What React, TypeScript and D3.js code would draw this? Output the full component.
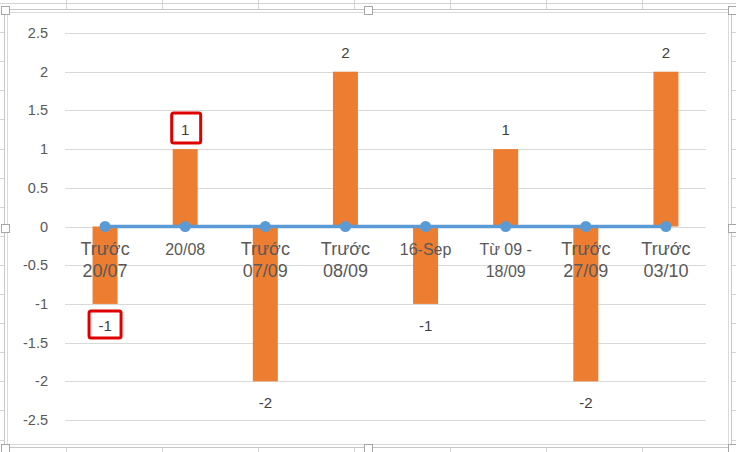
import { useEffect, useRef } from 'react';
import * as d3 from 'd3';

// chart data
const categories = [
  'Trước\n20/07',
  '20/08',
  'Trước\n07/09',
  'Trước\n08/09',
  '16-Sep',
  'Từ 09 -\n18/09',
  'Trước\n27/09',
  'Trước\n03/10',
];
const barValues = [-1, 1, -2, 2, -1, 1, -2, 2];
const lineValues = [0, 0, 0, 0, 0, 0, 0, 0];
const yTicks = [2.5, 2, 1.5, 1, 0.5, 0, -0.5, -1, -1.5, -2, -2.5];
// labels with a red box drawn round them
const boxedLabels = [0, 1];

export default function App() {
  const svgRef = useRef<SVGSVGElement>(null);

  useEffect(() => {
    const width = 736;
    const height = 452;
    const plot = { left: 65, right: 706, top: 33, bottom: 420 };
    const orange = '#ED7D31';
    const blue = '#5B9BD5';
    const font = "'Liberation Sans', Arial, sans-serif";

    const svg = d3.select(svgRef.current);
    svg.selectAll('*').remove();

    // spreadsheet cells behind the chart
    const sheet = svg.append('g').attr('stroke', '#d4d4d4').attr('stroke-width', 1);
    sheet
      .selectAll('line.v')
      .data(d3.range(66, width, 96))
      .enter()
      .append('line')
      .attr('x1', d => d + 0.5)
      .attr('x2', d => d + 0.5)
      .attr('y1', 0)
      .attr('y2', height);
    sheet
      .selectAll('line.h')
      .data(d3.range(3, height, 29.1))
      .enter()
      .append('line')
      .attr('x1', 0)
      .attr('x2', width)
      .attr('y1', d => Math.round(d) + 0.5)
      .attr('y2', d => Math.round(d) + 0.5);

    // chart area
    svg.append('rect').attr('x', 4.5).attr('y', 9.5).attr('width', 727).attr('height', 438)
      .attr('fill', '#fff').attr('stroke', '#c6c6c6');
    svg.append('rect').attr('x', 7.5).attr('y', 12.5).attr('width', 721).attr('height', 432)
      .attr('fill', 'none').attr('stroke', '#dadada');

    const x = d3
      .scaleBand()
      .domain(categories)
      .range([plot.left, plot.right]);
    const y = d3.scaleLinear().domain([-2.5, 2.5]).range([plot.bottom, plot.top]);
    const cx = (i: number) => x(categories[i])! + x.bandwidth() / 2;
    const barW = 25;

    // gridlines
    svg
      .append('g')
      .selectAll('line')
      .data(yTicks)
      .enter()
      .append('line')
      .attr('x1', plot.left)
      .attr('x2', plot.right)
      .attr('y1', d => Math.round(y(d)) + 0.5)
      .attr('y2', d => Math.round(y(d)) + 0.5)
      .attr('stroke', '#d9d9d9')
      .attr('stroke-width', 1);

    // y labels
    svg
      .append('g')
      .selectAll('text')
      .data(yTicks)
      .enter()
      .append('text')
      .attr('x', 48)
      .attr('y', d => y(d) + 5)
      .attr('text-anchor', 'end')
      .attr('font-family', font)
      .attr('font-size', 14.5)
      .attr('fill', '#595959')
      .text(d => String(d));

    // bars
    svg
      .append('g')
      .selectAll('rect')
      .data(barValues)
      .enter()
      .append('rect')
      .attr('x', (_, i) => cx(i) - barW / 2)
      .attr('y', d => y(Math.max(0, d)))
      .attr('width', barW)
      .attr('height', d => Math.abs(y(d) - y(0)))
      .attr('fill', orange);

    // category labels
    const cat = svg
      .append('g')
      .selectAll('text')
      .data(categories)
      .enter()
      .append('text')
      .attr('text-anchor', 'middle')
      .attr('font-family', font)
      .attr('fill', '#595959')
      .attr('font-size', d => (d.startsWith('Trước') ? 18 : 16));
    cat
      .selectAll('tspan')
      .data((d, i) => d.split('\n').map((s, k) => ({ s, k, i })))
      .enter()
      .append('tspan')
      .attr('x', d => cx(d.i))
      .attr('y', d => 255 + d.k * 22)
      .text(d => d.s);

    // zero line with markers
    const line = d3
      .line<number>()
      .x((_, i) => cx(i))
      .y(d => y(d));
    svg
      .append('path')
      .datum(lineValues)
      .attr('d', line)
      .attr('fill', 'none')
      .attr('stroke', blue)
      .attr('stroke-width', 3.5);
    svg
      .append('g')
      .selectAll('circle')
      .data(lineValues)
      .enter()
      .append('circle')
      .attr('cx', (_, i) => cx(i))
      .attr('cy', d => y(d))
      .attr('r', 5.5)
      .attr('fill', blue);

    // data labels
    const labelY = (d: number) => (d >= 0 ? y(d) - 14 : y(d) + 27);
    svg
      .append('g')
      .selectAll('text')
      .data(barValues)
      .enter()
      .append('text')
      .attr('x', (_, i) => cx(i))
      .attr('y', d => labelY(d))
      .attr('text-anchor', 'middle')
      .attr('font-family', font)
      .attr('font-size', 15)
      .attr('fill', '#404040')
      .text(d => String(d));

    // red highlight boxes
    svg
      .append('g')
      .selectAll('rect')
      .data(boxedLabels)
      .enter()
      .append('rect')
      .attr('x', i => cx(i) - (barValues[i] < 0 ? 16 : 13.5))
      .attr('y', i => labelY(barValues[i]) - (barValues[i] < 0 ? 20 : 22))
      .attr('width', i => (barValues[i] < 0 ? 32 : 29))
      .attr('height', i => (barValues[i] < 0 ? 27 : 30))
      .attr('rx', 2)
      .attr('fill', 'none')
      .attr('stroke', '#e00000')
      .attr('stroke-width', 3);

    // selection handles
    const hx = [4.5, 368, 731.5];
    const hy = [9.5, 228, 447.5];
    const handles: [number, number][] = [];
    hx.forEach(a => hy.forEach(b => { if (!(a === 368 && b === 228)) handles.push([a, b]); }));
    svg
      .append('g')
      .selectAll('rect')
      .data(handles)
      .enter()
      .append('rect')
      .attr('x', d => Math.round(d[0] - 4) + 0.5)
      .attr('y', d => Math.round(d[1] - 4) + 0.5)
      .attr('width', 8)
      .attr('height', 8)
      .attr('fill', '#fff')
      .attr('stroke', '#a6a6a6');
  }, []);

  return (
    <svg
      ref={svgRef}
      width={736}
      height={452}
      style={{ position: 'absolute', left: 0, top: 0, background: '#fff' }}
    ></svg>
  );
}
